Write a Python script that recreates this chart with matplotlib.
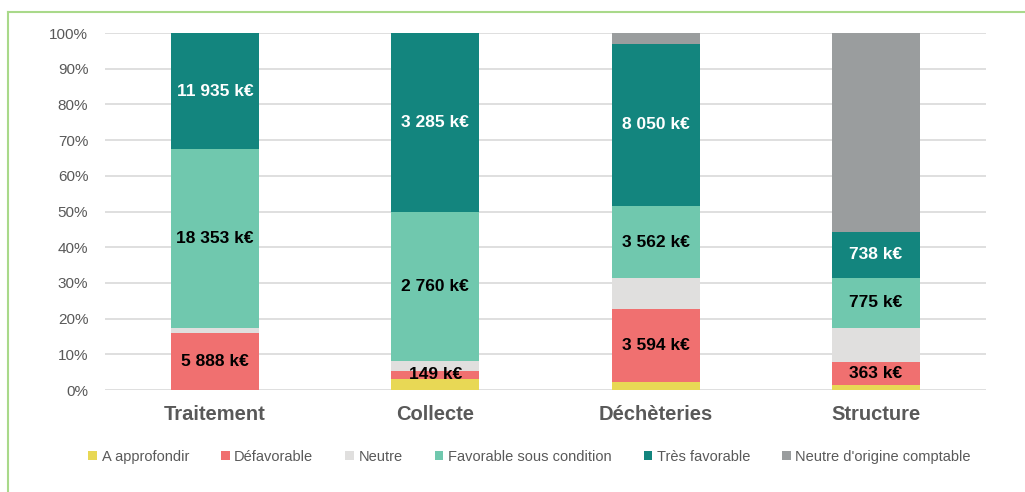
import numpy as np
import matplotlib.pyplot as plt
from matplotlib.lines import Line2D

categories = ["Traitement", "Collecte", "Déchèteries", "Structure"]
series = ["A approfondir", "Défavorable", "Neutre", "Favorable sous condition",
          "Très favorable", "Neutre d'origine comptable"]
colors = ["#E8D855", "#F07070", "#E0DFDE", "#70C8AE", "#13857E", "#9A9D9E"]

# parts in % of each bar
a_approfondir = [0.0, 3.1, 2.3, 1.3]
defavorable = [16.0, 2.3, 20.3, 6.5]
neutre = [1.4, 2.6, 8.8, 9.6]
favorable_cond = [50.1, 42.0, 20.1, 14.0]
tres_favorable = [32.5, 50.0, 45.5, 12.9]
neutre_compta = [0.0, 0.0, 3.0, 55.7]

# segment labels (series index, category index, text)
labels = [
    (1, 0, "5 888 k€"), (3, 0, "18 353 k€"), (4, 0, "11 935 k€"),
    (1, 1, "149 k€"), (3, 1, "2 760 k€"), (4, 1, "3 285 k€"),
    (1, 2, "3 594 k€"), (3, 2, "3 562 k€"), (4, 2, "8 050 k€"),
    (1, 3, "363 k€"), (3, 3, "775 k€"), (4, 3, "738 k€"),
]

data = np.array([a_approfondir, defavorable, neutre, favorable_cond,
                 tres_favorable, neutre_compta])

plt.rcParams['font.family'] = ['Liberation Sans', 'DejaVu Sans']

fig = plt.figure(figsize=(10.25, 4.92), dpi=100)
ax = fig.add_axes([0.1024, 0.2073, 0.8596, 0.7256])

x = np.arange(len(categories))
bottoms = np.zeros(len(categories))
bars = []
for i, name in enumerate(series):
    ax.bar(x, data[i], 0.4, bottom=bottoms, color=colors[i], label=name,
           zorder=2)
    bars.append(bottoms.copy())
    bottoms = bottoms + data[i]

for si, ci, txt in labels:
    y = bars[si][ci] + data[si][ci] / 2
    col = "white" if si == 4 else "black"
    ax.text(x[ci], y, txt, ha="center", va="center", fontsize=12.5,
            fontweight="bold", color=col, zorder=3)

ax.set_xlim(-0.5, 3.5)
ax.set_ylim(0, 100)
ax.set_yticks(np.arange(0, 101, 10))
ax.set_yticklabels([f"{v}%" for v in range(0, 101, 10)])
ax.yaxis.grid(True, color="#D9D9D9", linewidth=1.2, zorder=0)
ax.set_axisbelow(True)
for s in ax.spines.values():
    s.set_visible(False)
ax.tick_params(axis="y", length=0, labelsize=11, labelcolor="#595959", pad=12)
ax.tick_params(axis="x", length=0, pad=11)
ax.set_xticks(x)
ax.set_xticklabels(categories, fontsize=14.5, fontweight="bold", color="#595959")

ax.legend(loc="upper center", bbox_to_anchor=(0.482, -0.13), ncol=6, frameon=False,
          fontsize=10.5, labelcolor="#595959",
          handlelength=0.6, handleheight=0.6, handletextpad=0.3,
          columnspacing=2.2)

# green frame (left and top)
fig.add_artist(Line2D([0.0075, 0.0075], [0, 1 - 12 / 492], color="#A9D98A",
                      linewidth=1.5, transform=fig.transFigure))
fig.add_artist(Line2D([0.0075, 1], [1 - 12 / 492, 1 - 12 / 492], color="#A9D98A",
                      linewidth=1.5, transform=fig.transFigure))

fig.savefig("out.png", dpi=100)
